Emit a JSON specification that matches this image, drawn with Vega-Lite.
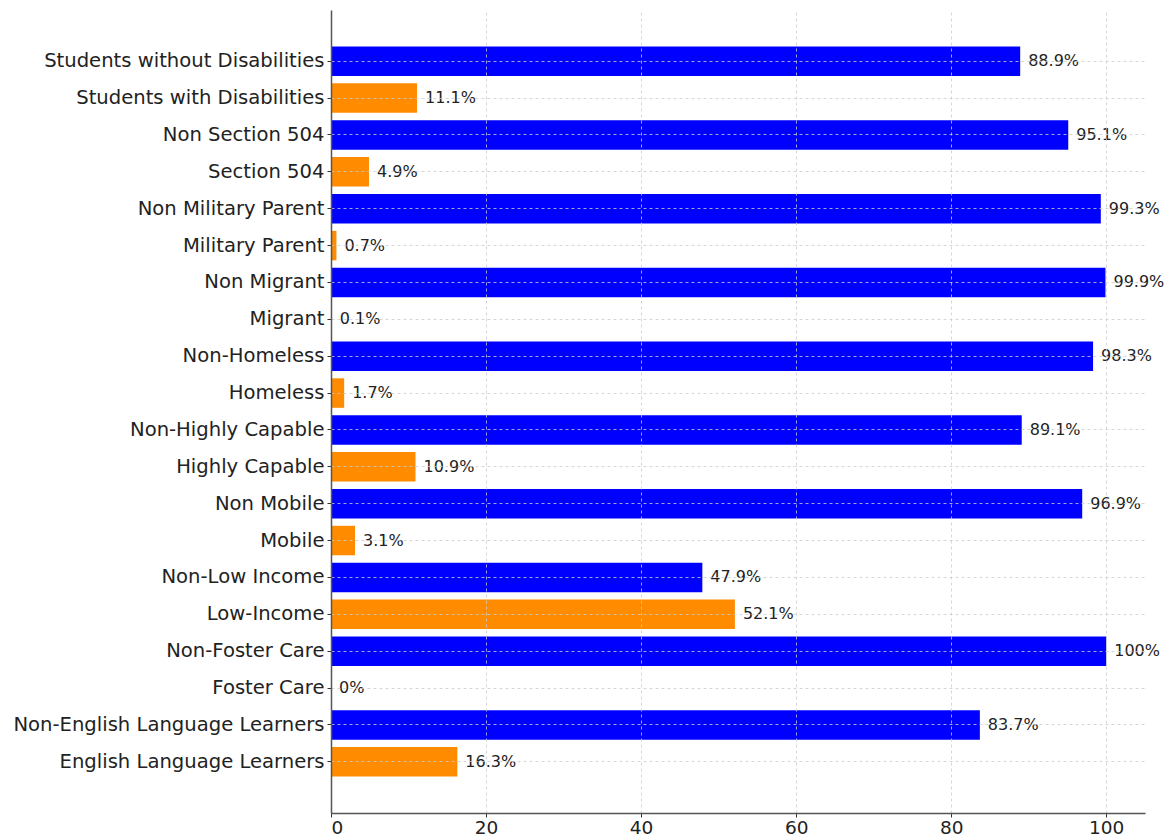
{
  "$schema": "https://vega.github.io/schema/vega-lite/v6.json",
  "width": 814,
  "height": 803,
  "autosize": {"type": "none"},
  "padding": {"left": 331, "top": 10, "right": 25, "bottom": 25},
  "background": "white",
  "config": {"view": {"stroke": null}, "font": "DejaVu Sans"},
  "data": {
    "values": [
      {"category": "Students without Disabilities", "value": 88.9, "label": "88.9%", "group": "base"},
      {"category": "Students with Disabilities", "value": 11.1, "label": "11.1%", "group": "focus"},
      {"category": "Non Section 504", "value": 95.1, "label": "95.1%", "group": "base"},
      {"category": "Section 504", "value": 4.9, "label": "4.9%", "group": "focus"},
      {"category": "Non Military Parent", "value": 99.3, "label": "99.3%", "group": "base"},
      {"category": "Military Parent", "value": 0.7, "label": "0.7%", "group": "focus"},
      {"category": "Non Migrant", "value": 99.9, "label": "99.9%", "group": "base"},
      {"category": "Migrant", "value": 0.1, "label": "0.1%", "group": "focus"},
      {"category": "Non-Homeless", "value": 98.3, "label": "98.3%", "group": "base"},
      {"category": "Homeless", "value": 1.7, "label": "1.7%", "group": "focus"},
      {"category": "Non-Highly Capable", "value": 89.1, "label": "89.1%", "group": "base"},
      {"category": "Highly Capable", "value": 10.9, "label": "10.9%", "group": "focus"},
      {"category": "Non Mobile", "value": 96.9, "label": "96.9%", "group": "base"},
      {"category": "Mobile", "value": 3.1, "label": "3.1%", "group": "focus"},
      {"category": "Non-Low Income", "value": 47.9, "label": "47.9%", "group": "base"},
      {"category": "Low-Income", "value": 52.1, "label": "52.1%", "group": "focus"},
      {"category": "Non-Foster Care", "value": 100, "label": "100%", "group": "base"},
      {"category": "Foster Care", "value": 0, "label": "0%", "group": "focus"},
      {"category": "Non-English Language Learners", "value": 83.7, "label": "83.7%", "group": "base"},
      {"category": "English Language Learners", "value": 16.3, "label": "16.3%", "group": "focus"}
    ]
  },
  "encoding": {
    "y": {
      "field": "category",
      "type": "nominal",
      "sort": null,
      "title": null,
      "scale": {"paddingInner": 0.2, "paddingOuter": 0.99},
      "axis": {
        "zindex": 1,
        "domainColor": "#555555",
        "domainWidth": 1.5,
        "tickColor": "#333333",
        "tickSize": 4,
        "labelPadding": 3,
        "labelFontSize": 19.6,
        "labelLimit": 0,
        "labelColor": "#222222",
        "labelFont": "DejaVu Sans",
        "grid": true,
        "gridDash": [3, 3],
        "gridColor": "#cccccc",
        "gridWidth": 0.8
      }
    }
  },
  "layer": [
    {
      "mark": {"type": "bar"},
      "encoding": {
        "x": {
          "field": "value",
          "type": "quantitative",
          "title": null,
          "scale": {"domain": [0, 105], "nice": false},
          "axis": {
            "values": [0, 20, 40, 60, 80, 100],
            "zindex": 1,
            "domainColor": "#555555",
            "domainWidth": 1.5,
            "tickColor": "#333333",
            "tickSize": 4,
            "labelPadding": 1,
            "labelFontSize": 18.5,
            "labelColor": "#222222",
            "labelFont": "DejaVu Sans",
            "grid": true,
            "gridDash": [3, 3],
            "gridColor": "#cccccc",
            "gridWidth": 0.8
          }
        },
        "color": {
          "field": "group",
          "type": "nominal",
          "legend": null,
          "scale": {"domain": ["base", "focus"], "range": ["#0000ff", "#ff8c00"]}
        }
      }
    },
    {
      "mark": {"type": "text", "align": "left", "baseline": "middle", "dx": 8, "fontSize": 16, "color": "#222222", "font": "DejaVu Sans"},
      "encoding": {
        "x": {"field": "value", "type": "quantitative"},
        "text": {"field": "label"}
      }
    }
  ]
}
